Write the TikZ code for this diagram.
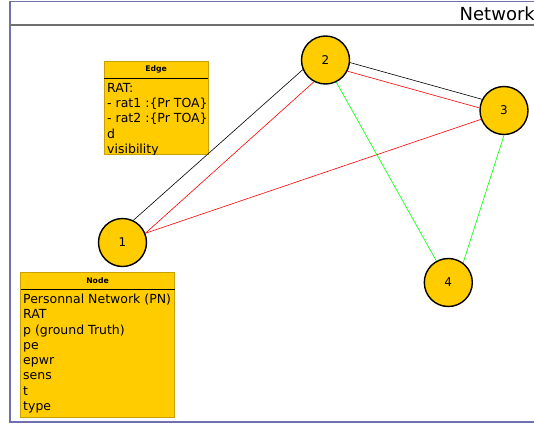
\documentclass[tikz,border=0pt]{standalone}
\usepackage{fontspec}
\setmainfont{DejaVu Sans}
\begin{document}
\begin{tikzpicture}[x=1pt,y=-1pt,
  vert/.style={circle,draw=black,line width=1.4pt,fill=gold,minimum size=48pt,inner sep=0pt,font=\fontsize{12}{13}\selectfont},
  classbox/.style={draw=boxedge,line width=0.7pt,fill=gold},
  titletext/.style={font=\fontsize{7.7}{9}\selectfont\bfseries,anchor=center},
  bodytext/.style={font=\fontsize{12.5}{15.3}\selectfont,anchor=north west,align=left,inner sep=0pt},
  blk/.style={draw=black,line width=0.6pt},
  redl/.style={draw=red,line width=0.6pt},
  grn/.style={draw=green,line width=0.6pt}]
\definecolor{gold}{HTML}{FFCC00}
\definecolor{boxedge}{HTML}{C8A000}
\definecolor{framecol}{HTML}{7070B0}
\definecolor{headcol}{HTML}{707070}
\useasboundingbox (0,0) rectangle (534,423);
\begin{scope}
\clip (0,0) rectangle (534,423);
% frame
\draw[framecol,line width=1.5pt] (560,1.5) -- (10,1.5) -- (10,421.8) -- (560,421.8);
\draw[headcol,line width=1.3pt] (10,25) -- (560,25);
\node[anchor=base west,inner sep=0pt,font=\fontsize{18}{21}\selectfont] (title) at (459.5,20) {Network};

% Edge class box
\draw[classbox] (104,61.5) rectangle (208,154.5);
\draw[black,line width=0.9pt] (104,78) -- (208,78);
\node[titletext] (edgetitle) at (156,69.5) {Edge};
\begin{scope}
\clip (104,61.5) rectangle (209,154.5);
\node[bodytext] (edgebody) at (107,82.8) {RAT:\\- rat1 :\{Pr TOA\}\\- rat2 :\{Pr TOA\}\\d\\visibility};
\end{scope}

% Node class box
\draw[classbox] (20.5,272) rectangle (174.5,417.5);
\draw[black,line width=0.9pt] (20.5,289) -- (174.5,289);
\node[titletext] (nodetitle) at (97.5,280.5) {Node};
\node[bodytext] (nodebody) at (23,293.7) {Personnal Network (PN)\\RAT\\p (ground Truth)\\pe\\epwr\\sens\\t\\type};

% vertices
\node[vert] (n1) at (122.5,242.5) {1};
\node[vert] (n2) at (325.5,60) {2};
\node[vert] (n3) at (504,110.5) {3};
\node[vert] (n4) at (448.3,282.5) {4};

% edges
\draw[blk] (n1.64) -- (n2.203.6);
\draw[redl] (n1.22) -- (n2.242.8);
\draw[redl] (n1.22) -- (n3.201);
\draw[blk] (n2.-6.5) -- (n3.153.7);
\draw[redl] (n2.-27.8) -- (n3.174.5);
\draw[grn] (n2.-64.7) -- (n4.119);
\draw[grn] (n3.-90.7) -- (n4.53.8);
\end{scope}
\end{tikzpicture}
\end{document}
